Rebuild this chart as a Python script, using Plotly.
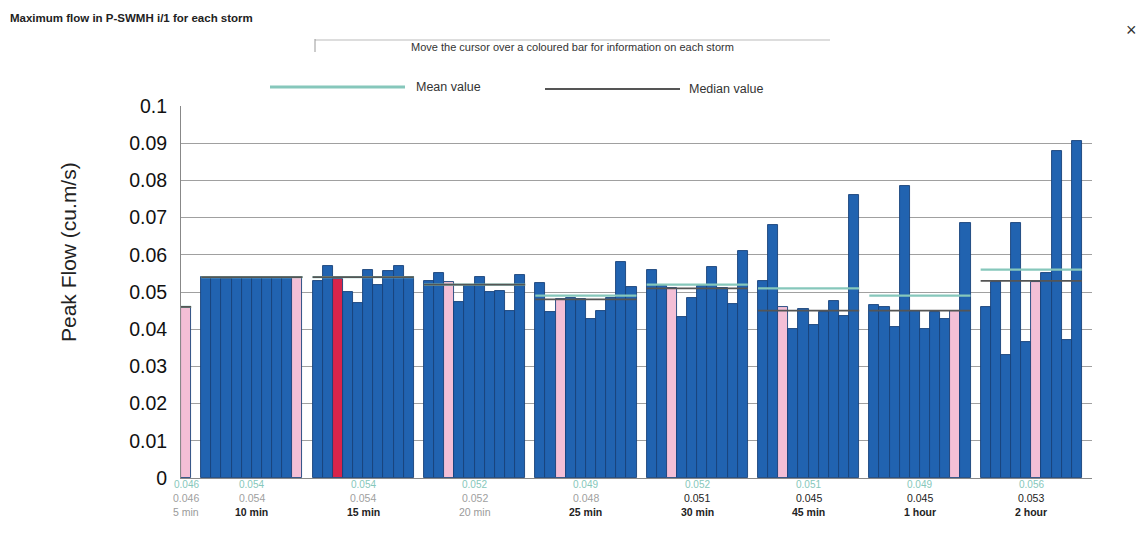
import plotly.graph_objects as go

# Storm durations (one group of bars per duration)
durations = ["5 min", "10 min", "15 min", "20 min", "25 min", "30 min", "45 min", "1 hour", "2 hour"]

# Peak flow of every storm in each duration group (cu.m/s)
peak_5min = [0.046]
peak_10min = [0.054, 0.054, 0.0535, 0.054, 0.054, 0.054, 0.054, 0.054, 0.054, 0.054]
peak_15min = [0.053, 0.057, 0.0536, 0.050, 0.047, 0.056, 0.052, 0.0556, 0.057, 0.054]
peak_20min = [0.053, 0.055, 0.0527, 0.0473, 0.0518, 0.054, 0.050, 0.0504, 0.045, 0.0547]
peak_25min = [0.0523, 0.0445, 0.048, 0.0485, 0.048, 0.0427, 0.045, 0.0485, 0.0582, 0.0514]
peak_30min = [0.0558, 0.0517, 0.0512, 0.0433, 0.0484, 0.0517, 0.0568, 0.0512, 0.0468, 0.061]
peak_45min = [0.053, 0.068, 0.046, 0.040, 0.0455, 0.041, 0.0445, 0.0475, 0.0435, 0.076]
peak_1hour = [0.0464, 0.0459, 0.0405, 0.0786, 0.045, 0.040, 0.0445, 0.0427, 0.045, 0.0686]
peak_2hour = [0.046, 0.0527, 0.033, 0.0685, 0.0365, 0.0527, 0.055, 0.0878, 0.037, 0.0905]

# Summary statistics per duration
mean_flow = [0.046, 0.054, 0.054, 0.052, 0.049, 0.052, 0.051, 0.049, 0.056]
median_flow = [0.046, 0.054, 0.054, 0.052, 0.048, 0.051, 0.045, 0.045, 0.053]

# Index of the median storm in each group, and the storm currently selected
median_storm = [0, 9, 2, 2, 2, 2, 2, 8, 5]
selected_storm = (2, 2)

# Y axis ticks
y_ticks = [0, 0.01, 0.02, 0.03, 0.04, 0.05, 0.06, 0.07, 0.08, 0.09, 0.1]
y_tick_labels = ["0", "0.01", "0.02", "0.03", "0.04", "0.05", "0.06", "0.07", "0.08", "0.09", "0.1"]

flows = [peak_5min, peak_10min, peak_15min, peak_20min, peak_25min,
         peak_30min, peak_45min, peak_1hour, peak_2hour]

BLUE = "#2163b0"
PINK = "#f3bfd6"
RED = "#d8244a"
TEAL = "#86c7bb"
DARK = "#555555"

# Figure geometry in pixels
W, H = 1139, 534
L, R, T, B = 181, 1092, 106, 478


def px(xp):
    return (xp - L) / (R - L)


def py(yp):
    return (B - yp) / (B - T)


xs, ys, colors, starts = [], [], [], []
pos = 0
for g, vals in enumerate(flows):
    starts.append(pos)
    for i, v in enumerate(vals):
        xs.append(pos + i)
        ys.append(v)
        if (g, i) == selected_storm:
            colors.append(RED)
        elif i == median_storm[g]:
            colors.append(PINK)
        else:
            colors.append(BLUE)
    pos += len(vals) + 1
n_slots = pos - 1

fig = go.Figure()
fig.add_trace(go.Bar(
    x=xs, y=ys, width=1.0,
    marker=dict(color=colors, line=dict(color="#17427a", width=0.9)),
    showlegend=False, hoverinfo="y",
))

for g, vals in enumerate(flows):
    x0 = starts[g] - 0.5
    x1 = starts[g] + len(vals) - 0.5
    fig.add_trace(go.Scatter(x=[x0, x1], y=[mean_flow[g]] * 2, mode="lines",
                             line=dict(color=TEAL, width=2.2), showlegend=False, hoverinfo="skip"))
    fig.add_trace(go.Scatter(x=[x0, x1], y=[median_flow[g]] * 2, mode="lines",
                             line=dict(color=DARK, width=1.8), showlegend=False, hoverinfo="skip"))

annotations = []
median_colors = ["#a0a0a0"] * 5 + ["#222222"] * 4
name_colors = ["#9a9a9a", "#222222", "#222222", "#9a9a9a", "#222222",
               "#222222", "#222222", "#222222", "#222222"]
for g, vals in enumerate(flows):
    cx = starts[g] + (len(vals) - 1) / 2
    annotations.append(dict(x=cx, y=0, xref="x", yref="paper", yshift=-6, yanchor="middle",
                            text=f"{mean_flow[g]:.3f}", showarrow=False,
                            font=dict(size=10, color=TEAL)))
    annotations.append(dict(x=cx, y=0, xref="x", yref="paper", yshift=-20, yanchor="middle",
                            text=f"{median_flow[g]:.3f}", showarrow=False,
                            font=dict(size=10.5, color=median_colors[g])))
    annotations.append(dict(x=cx, y=0, xref="x", yref="paper", yshift=-34, yanchor="middle",
                            text=durations[g], showarrow=False,
                            font=dict(size=10.5, color=name_colors[g],
                                      weight="bold" if name_colors[g] == "#222222" else "normal")))

# Axis title
annotations.append(dict(x=px(68), y=py(252), xref="paper", yref="paper", text="Peak Flow (cu.m/s)",
                        textangle=-90, showarrow=False, xanchor="center", yanchor="middle",
                        font=dict(size=21, color="#222222")))
# Header texts
annotations.append(dict(x=px(8), y=py(18), xref="paper", yref="paper", xanchor="left", yanchor="middle",
                        text="Maximum flow in P-SWMH i/1 for each storm", showarrow=False,
                        font=dict(size=11.5, color="#222222", weight="bold")))
annotations.append(dict(x=px(572), y=py(47), xref="paper", yref="paper", xanchor="center", yanchor="middle",
                        text="Move the cursor over a coloured bar for information on each storm",
                        showarrow=False, font=dict(size=11, color="#333333")))
annotations.append(dict(x=px(1131), y=py(30), xref="paper", yref="paper", xanchor="center", yanchor="middle",
                        text="×", showarrow=False, font=dict(size=18, color="#333333")))
annotations.append(dict(x=px(414), y=py(87), xref="paper", yref="paper", xanchor="left", yanchor="middle",
                        text="Mean value", showarrow=False, font=dict(size=12.5, color="#333333")))
annotations.append(dict(x=px(687), y=py(89), xref="paper", yref="paper", xanchor="left", yanchor="middle",
                        text="Median value", showarrow=False, font=dict(size=12.5, color="#333333")))

shapes = [
    dict(type="line", xref="paper", yref="paper", x0=px(315), x1=px(830), y0=py(40), y1=py(40),
         line=dict(color="#bbbbbb", width=1)),
    dict(type="line", xref="paper", yref="paper", x0=px(315), x1=px(315), y0=py(39), y1=py(52),
         line=dict(color="#999999", width=1)),
    dict(type="line", xref="paper", yref="paper", x0=px(270), x1=px(405), y0=py(87), y1=py(87),
         line=dict(color=TEAL, width=3)),
    dict(type="line", xref="paper", yref="paper", x0=px(545), x1=px(680), y0=py(89), y1=py(89),
         line=dict(color=DARK, width=2)),
]

fig.update_layout(
    width=W, height=H, autosize=False,
    margin=dict(l=L, r=W - R, t=T, b=H - B, pad=0),
    paper_bgcolor="white", plot_bgcolor="white",
    font=dict(family="Arial, Liberation Sans, sans-serif", color="#111111"),
    bargap=0,
    xaxis=dict(range=[-0.5, n_slots + 0.5], showticklabels=False, showgrid=False,
               zeroline=False, showline=True, linecolor="#888888", linewidth=1, ticks=""),
    yaxis=dict(range=[0, 0.1], tickvals=y_ticks, ticktext=y_tick_labels,
               showgrid=True, gridcolor="#a0a0a0", gridwidth=1, zeroline=False,
               showline=True, linecolor="#888888", linewidth=1, ticks="",
               ticklabelstandoff=9, tickfont=dict(size=19.5, color="#111111")),
    annotations=annotations,
    shapes=shapes,
)

fig.write_html("out.html")
